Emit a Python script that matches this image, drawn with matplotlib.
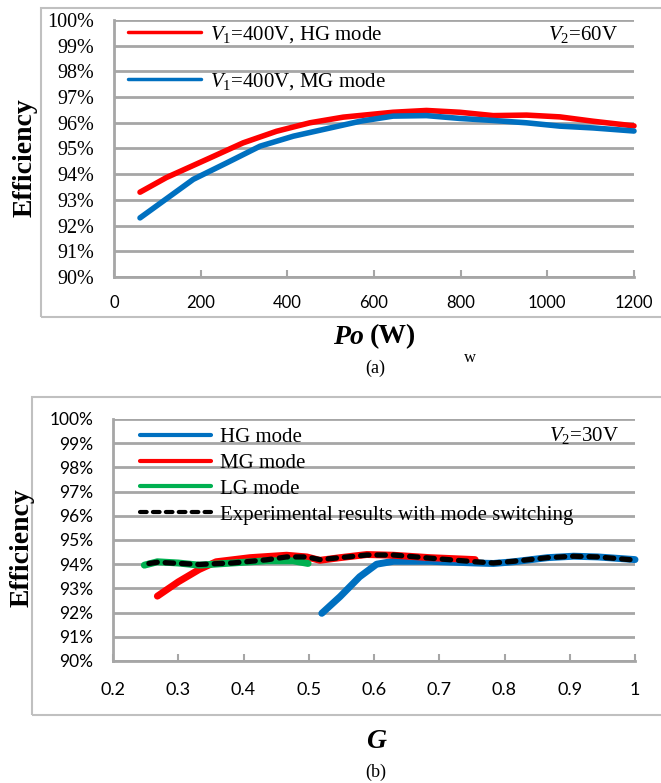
import matplotlib
matplotlib.use("Agg")
import matplotlib.pyplot as plt
from matplotlib.patches import Rectangle

# --- data ---
# (a) efficiency vs output power, V2 = 60V
po_hg = [60, 121, 221, 298, 375, 452, 529, 644, 721, 798, 875, 952, 1029, 1106, 1200]
eff_hg_a = [93.3, 93.87, 94.63, 95.22, 95.67, 96.0, 96.22, 96.41, 96.48, 96.41, 96.28, 96.3, 96.23, 96.06, 95.88]
po_mg = [60, 183, 260, 337, 414, 491, 568, 644, 721, 798, 875, 952, 1029, 1106, 1200]
eff_mg_a = [92.3, 93.8, 94.44, 95.09, 95.48, 95.77, 96.06, 96.26, 96.28, 96.17, 96.09, 96.0, 95.87, 95.8, 95.68]

# (b) efficiency vs gain G, V2 = 30V
g_lg = [0.248, 0.268, 0.30, 0.332, 0.383, 0.435, 0.476, 0.499]
eff_lg = [93.96, 94.1, 94.05, 93.96, 94.05, 94.14, 94.14, 94.03]
g_mg = [0.268, 0.30, 0.332, 0.358, 0.41, 0.466, 0.497, 0.517, 0.548, 0.589, 0.63, 0.686, 0.755]
eff_mg_b = [92.68, 93.27, 93.78, 94.1, 94.27, 94.37, 94.3, 94.16, 94.27, 94.4, 94.37, 94.27, 94.19]
g_hg = [0.52, 0.548, 0.578, 0.604, 0.63, 0.686, 0.755, 0.783, 0.814, 0.866, 0.906, 0.943, 1.0]
eff_hg_b = [91.97, 92.66, 93.48, 94.0, 94.12, 94.12, 94.05, 94.03, 94.1, 94.27, 94.33, 94.3, 94.19]
g_exp = [0.255, 0.268, 0.332, 0.383, 0.435, 0.466, 0.497, 0.517, 0.548, 0.589, 0.63, 0.686,
         0.755, 0.783, 0.814, 0.866, 0.906, 0.943, 1.0]
eff_exp = [94.03, 94.08, 93.99, 94.05, 94.18, 94.3, 94.3, 94.19, 94.27, 94.38, 94.38, 94.25,
           94.1, 94.05, 94.12, 94.27, 94.33, 94.3, 94.17]

y_ticks = list(range(90, 101))
y_labels = [f"{v}%" for v in y_ticks]
xa_ticks = [0, 200, 400, 600, 800, 1000, 1200]
xb_ticks = [0.2, 0.3, 0.4, 0.5, 0.6, 0.7, 0.8, 0.9, 1.0]
xb_labels = ["0.2", "0.3", "0.4", "0.5", "0.6", "0.7", "0.8", "0.9", "1"]

RED = "#ff0000"
BLUE = "#0070c0"
GREEN = "#00b050"
GRID = "#a6a6a6"

plt.rcParams["mathtext.fontset"] = "custom"
plt.rcParams["mathtext.rm"] = "Liberation Serif"
plt.rcParams["mathtext.it"] = "Liberation Serif:italic"

W, H = 661, 783
fig = plt.figure(figsize=(W / 100, H / 100), dpi=100)


def fx(px):
    return px / W


def fy(py):
    return 1 - py / H


# --- outer frames ---
fig.patches.append(Rectangle((fx(41), fy(317)), fx(700 - 41), (317 - 8) / H, fill=False,
                             edgecolor="#c0c0c0", lw=1.5, transform=fig.transFigure))
fig.patches.append(Rectangle((fx(32), fy(715)), fx(700 - 32), (715 - 397) / H, fill=False,
                             edgecolor="#c0c0c0", lw=1.5, transform=fig.transFigure))


def style_axes(ax, ylab_font, ylab_size, xlab_size, xpad):
    ax.set_ylim(90, 100)
    ax.set_yticks(y_ticks)
    ax.set_yticklabels(y_labels, family=ylab_font, size=ylab_size)
    ax.yaxis.grid(True, color=GRID, lw=2)
    ax.set_axisbelow(True)
    for s in ["top", "right"]:
        ax.spines[s].set_visible(False)
    for s in ["left", "bottom"]:
        ax.spines[s].set_color(GRID)
        ax.spines[s].set_linewidth(2)
    ax.tick_params(axis="y", length=0, pad=14)
    ax.tick_params(axis="x", direction="in", length=5, width=1.5, color=GRID, pad=xpad)
    for t in ax.get_xticklabels():
        t.set_family("Lato")
        t.set_size(xlab_size)


# --- panel (a) ---
ax1 = fig.add_axes([fx(114), fy(277), fx(634 - 114), (277 - 20) / H])
ax1.plot(po_hg, eff_hg_a, color=RED, lw=4, solid_capstyle="round", clip_on=False,
         label=r"$V_{\mathrm{1}}$=400V, HG mode")
ax1.plot(po_mg, eff_mg_a, color=BLUE, lw=4, solid_capstyle="round", clip_on=False,
         label=r"$V_{\mathrm{1}}$=400V, MG mode")
ax1.set_xlim(0, 1200)
ax1.set_xticks(xa_ticks)
style_axes(ax1, "Liberation Serif", 14.5, 12, 13)
leg = ax1.legend(loc="upper left", bbox_to_anchor=(0.027, 0.985), frameon=False,
                 prop={"family": "Liberation Serif", "size": 15}, handlelength=3.5,
                 handletextpad=0.45, labelspacing=1.25, borderpad=0, borderaxespad=0)
for h in leg.get_lines():
    h.set_linewidth(2.5)
ax1.text(0.969, 0.942, r"$V_{\mathrm{2}}$=60V", transform=ax1.transAxes, ha="right", va="center",
         family="Liberation Serif", size=15)

fig.text(fx(25), fy(158), "Efficiency", rotation=90, ha="center", va="center",
         family="Liberation Serif", weight="bold", size=20)
fig.text(fx(364), fy(337), "Po", ha="right", va="center", family="Liberation Serif",
         weight="bold", style="italic", size=20)
fig.text(fx(370), fy(337), "(W)", ha="left", va="center", family="Liberation Serif",
         weight="bold", size=20)
fig.text(fx(470), fy(358), "w", ha="center", va="center", family="Liberation Serif", size=12)
fig.text(fx(375), fy(368), "(a)", ha="center", va="center", family="Liberation Serif", size=13)

# --- panel (b) ---
ax2 = fig.add_axes([fx(113), fy(661), fx(635 - 113), (661 - 419) / H])
ax2.plot(g_hg, eff_hg_b, color=BLUE, lw=5, solid_capstyle="round", clip_on=False, label="HG mode")
ax2.plot(g_mg, eff_mg_b, color=RED, lw=5, solid_capstyle="round", clip_on=False, label="MG mode")
ax2.plot(g_lg, eff_lg, color=GREEN, lw=5, solid_capstyle="round", clip_on=False, label="LG mode")
ax2.plot(g_exp, eff_exp, color="black", lw=3.8, dashes=(1.6, 1.5), dash_capstyle="round",
         clip_on=False, label="Experimental results with mode switching")
ax2.set_xlim(0.2, 1.0)
ax2.set_xticks(xb_ticks)
ax2.set_xticklabels(xb_labels)
style_axes(ax2, "Lato", 12.5, 13, 15)
leg2 = ax2.legend(loc="upper left", bbox_to_anchor=(0.052, 0.965), frameon=False,
                  prop={"family": "Liberation Serif", "size": 15}, handlelength=3.4,
                  handletextpad=0.45, labelspacing=0.3, borderpad=0, borderaxespad=0)
for h in leg2.get_lines():
    h.set_linewidth(3)
ax2.text(0.97, 0.93, r"$V_{\mathrm{2}}$=30V", transform=ax2.transAxes, ha="right", va="center",
         family="Liberation Serif", size=15)

fig.text(fx(22), fy(548), "Efficiency", rotation=90, ha="center", va="center",
         family="Liberation Serif", weight="bold", size=20)
fig.text(fx(376), fy(742), "G", ha="center", va="center", family="Liberation Serif",
         weight="bold", style="italic", size=20)
fig.text(fx(376), fy(772), "(b)", ha="center", va="center", family="Liberation Serif", size=13)

fig.savefig("out.png", dpi=100)
